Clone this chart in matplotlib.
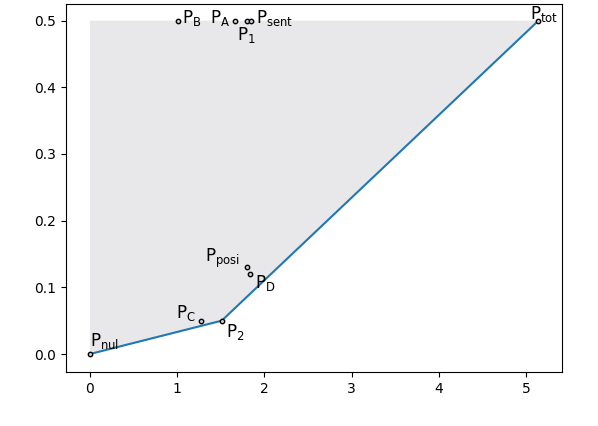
import matplotlib
matplotlib.use("Agg")
import matplotlib.pyplot as plt

# frontier points
frontier_x = [0.0, 1.51, 5.14]
frontier_y = [0.0, 0.05, 0.5]

# labelled points
names = ["nul", "2", "tot", "C", "posi", "D", "B", "A", "1", "sent"]
px = [0.0, 1.51, 5.14, 1.27, 1.80, 1.83, 1.01, 1.66, 1.80, 1.84]
py = [0.0, 0.05, 0.5, 0.05, 0.13, 0.12, 0.5, 0.5, 0.5, 0.5]
# label offsets in points
offs = [(0, 6), (3, -12), (-6, 1), (-18, 2), (-30, 4), (4, -10), (3, -2), (-18, -2), (-7, -14), (4, -2)]

fig = plt.figure(figsize=(5.98, 4.26), dpi=100)
ax = fig.add_axes([66 / 598, 1 - 372 / 426, 496 / 598, 368 / 426])

ax.fill([0, 0] + frontier_x[::-1], [0, 0.5] + frontier_y[::-1],
        color="#e8e8ea", zorder=0, lw=0)
ax.plot(frontier_x, frontier_y, color="#1f77b4", lw=1.5, zorder=2)
ax.scatter(px, py, s=10, facecolor="#cccccc", edgecolor="black", lw=1, zorder=3)
for n, x, y, (dx, dy) in zip(names, px, py, offs):
    ax.annotate("$\\mathrm{P_{%s}}$" % n, (x, y), xytext=(dx, dy),
                textcoords="offset points", fontsize=12)

ax.set_xlim(-0.275, 5.41)
ax.set_ylim(-0.027, 0.525)
ax.set_xticks([0, 1, 2, 3, 4, 5])
ax.set_yticks([0.0, 0.1, 0.2, 0.3, 0.4, 0.5])

fig.savefig("out.png", dpi=100)
